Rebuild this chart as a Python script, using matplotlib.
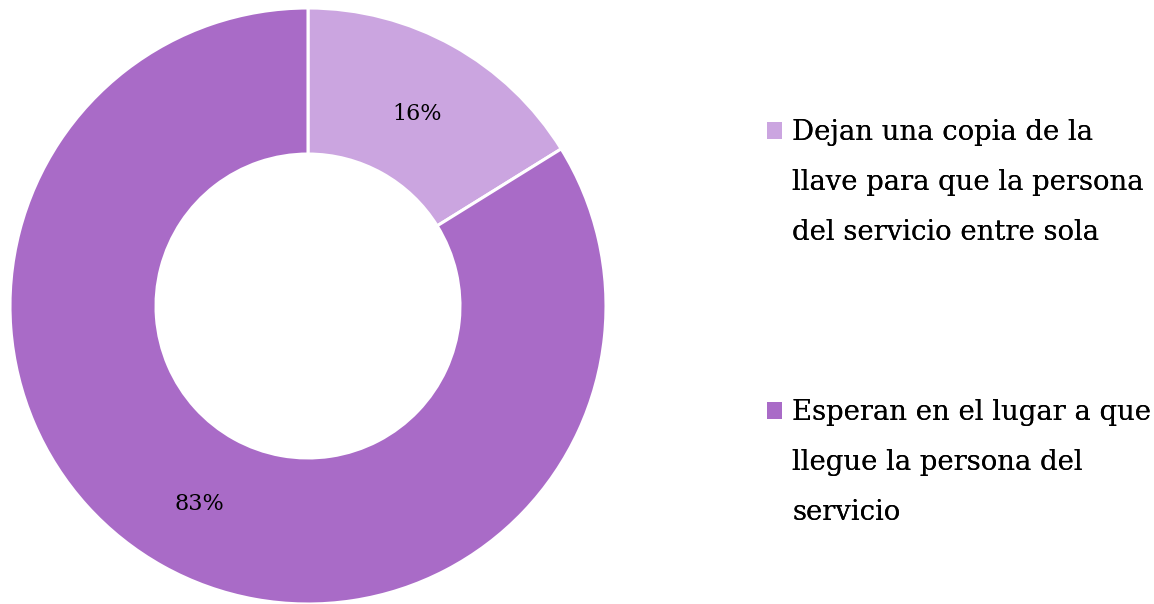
import numpy as np
import matplotlib.pyplot as plt
from matplotlib.patches import Patch

categories = [
    "Dejan una copia de la\nllave para que la persona\ndel servicio entre sola",
    "Esperan en el lugar a que\nllegue la persona del\nservicio",
]
values = [16, 83]
pct_labels = ["16%", "83%"]
colors = ["#CBA5E0", "#A96BC7"]

plt.rcParams['font.family'] = ['DejaVu Serif']


def main() -> None:
    fig = plt.figure(figsize=(11.54, 6.04), dpi=100)
    ax = fig.add_axes([10 / 1154, 0, 596 / 1154, 596 / 604])

    wedges, _ = ax.pie(values, colors=colors, startangle=90, counterclock=False,
                       radius=1, wedgeprops=dict(width=0.49, edgecolor='white', linewidth=2.2))
    for w, lab in zip(wedges, pct_labels):
        ang = np.deg2rad((w.theta1 + w.theta2) / 2)
        ax.text(0.75 * np.cos(ang), 0.75 * np.sin(ang) - 0.01, lab, ha='center', va='center',
                fontsize=16, color='black')
    ax.set_xlim(-1, 1)
    ax.set_ylim(-1, 1)
    ax.set_aspect('equal')
    ax.axis('off')

    # one legend per category, one entry per text line so the square sits on the first line
    tops = [119, 399]
    for cat, col, top in zip(categories, colors, tops):
        lines = cat.split("\n")
        handles = [Patch(facecolor=col)] + [Patch(facecolor='none', edgecolor='none')] * (len(lines) - 1)
        leg = fig.legend(handles, lines, loc='upper left', bbox_to_anchor=(767 / 1154, 1 - top / 604),
                         frameon=False, fontsize=19.8, handlelength=0.55, handleheight=0.55,
                         handletextpad=0.36, labelspacing=0.84, borderaxespad=0, borderpad=0)
        fig.add_artist(leg)

    fig.savefig('out.png', dpi=100)


if __name__ == '__main__':
    main()
